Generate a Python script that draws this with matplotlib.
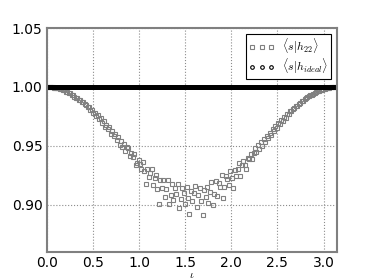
import numpy as np
import matplotlib
matplotlib.use('Agg')
import matplotlib.pyplot as plt

plt.rcParams['mathtext.fontset'] = 'cm'

# overlap <s|h22> sampled on an even grid of inclination angles
h22_overlap = [
    1.0000, 1.0000, 0.9999, 0.9997, 0.9997, 0.9993, 0.9993, 0.9988, 0.9987, 0.9981,
    0.9979, 0.9971, 0.9970, 0.9961, 0.9958, 0.9948, 0.9946, 0.9933, 0.9932, 0.9918,
    0.9908, 0.9909, 0.9891, 0.9890, 0.9872, 0.9871, 0.9852, 0.9850, 0.9828, 0.9830,
    0.9805, 0.9807, 0.9779, 0.9782, 0.9750, 0.9760, 0.9726, 0.9733, 0.9698, 0.9710,
    0.9664, 0.9680, 0.9645, 0.9657, 0.9603, 0.9625, 0.9580, 0.9601, 0.9548, 0.9574,
    0.9510, 0.9545, 0.9490, 0.9520, 0.9455, 0.9490, 0.9478, 0.9412, 0.9438, 0.9408,
    0.9431, 0.9338, 0.9356, 0.9379, 0.9350, 0.9302, 0.9364, 0.9289, 0.9179, 0.9307,
    0.9233, 0.9270, 0.9301, 0.9165, 0.9224, 0.9256, 0.9138, 0.9009, 0.9210, 0.9141,
    0.9213, 0.9065, 0.9137, 0.9210, 0.9003, 0.9086, 0.9180, 0.9045, 0.9139, 0.9094,
    0.9180, 0.8976, 0.9053, 0.9140, 0.9097, 0.9005, 0.9153, 0.9061, 0.8921, 0.9120,
    0.9030, 0.9101, 0.9161, 0.8983, 0.9085, 0.9147, 0.9030, 0.8913, 0.9126, 0.9070,
    0.9155, 0.9019, 0.9105, 0.9190, 0.8996, 0.9093, 0.9200, 0.9077, 0.9185, 0.9153,
    0.9251, 0.9060, 0.9149, 0.9248, 0.9221, 0.9168, 0.9284, 0.9231, 0.9144, 0.9296,
    0.9244, 0.9305, 0.9359, 0.9245, 0.9334, 0.9370, 0.9335, 0.9300, 0.9398, 0.9387,
    0.9432, 0.9390, 0.9436, 0.9482, 0.9445, 0.9505, 0.9470, 0.9530, 0.9500, 0.9560,
    0.9530, 0.9585, 0.9565, 0.9610, 0.9590, 0.9640, 0.9625, 0.9665, 0.9655, 0.9692,
    0.9685, 0.9720, 0.9712, 0.9745, 0.9740, 0.9770, 0.9770, 0.9795, 0.9795, 0.9815,
    0.9820, 0.9838, 0.9842, 0.9858, 0.9864, 0.9879, 0.9884, 0.9897, 0.9903, 0.9914,
    0.9920, 0.9930, 0.9935, 0.9944, 0.9950, 0.9957, 0.9962, 0.9968, 0.9973, 0.9978,
    0.9982, 0.9986, 0.9989, 0.9992, 0.9994, 0.9996, 0.9998, 0.9999, 1.0000, 1.0000,
]
h22_iota = np.linspace(0, np.pi, len(h22_overlap))

# overlap <s|h_ideal> is 1 everywhere
ideal_iota = np.linspace(0, np.pi, 600)
ideal_overlap = [1.0] * len(ideal_iota)

x_ticks = [0.0, 0.5, 1.0, 1.5, 2.0, 2.5, 3.0]
y_ticks = [0.90, 0.95, 1.00, 1.05]

fig = plt.figure(figsize=(3.74, 2.80), dpi=100)
ax = fig.add_axes([0.125, 0.1, 0.775, 0.8])

ax.plot(h22_iota, h22_overlap, 's', ms=2.8, mfc='none', mec='0.5', mew=0.8,
        label=r'$\langle s|h_{22}\rangle$')
ax.plot(ideal_iota, ideal_overlap, 'o', ms=2.6, mfc='none', mec='k', mew=0.8,
        label=r'$\langle s|h_{ideal}\rangle$')

ax.set_xlim(0, np.pi)
ax.set_ylim(0.86, 1.05)
ax.set_xticks(x_ticks)
ax.set_yticks(y_ticks)
ax.set_xticklabels(['%.1f' % t for t in x_ticks])
ax.set_yticklabels(['%.2f' % t for t in y_ticks])
ax.tick_params(length=0, labelsize=10, pad=3)
ax.grid(True, linestyle=':', color='0.55', linewidth=0.8)
for s in ax.spines.values():
    s.set_color('0.5')
    s.set_linewidth(1.5)

ax.set_xlabel(r'$\iota$', fontsize=8, labelpad=0)

leg = ax.legend(loc='upper right', numpoints=3, fontsize=8.5, fancybox=False,
                framealpha=1, handlelength=2.2, handletextpad=0.6,
                borderpad=0.25, labelspacing=0.05, borderaxespad=0.5)
leg.get_frame().set_edgecolor('k')
leg.get_frame().set_linewidth(0.8)

fig.savefig('out.png', dpi=100)
